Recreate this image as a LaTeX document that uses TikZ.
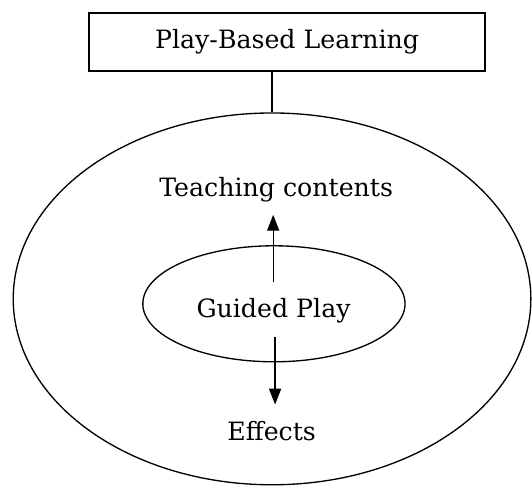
\documentclass[tikz,border=0pt]{standalone}
\usepackage{fontspec}
\setmainfont{DejaVu Serif}
\usetikzlibrary{arrows.meta,shapes.geometric}
\tikzstyle{caja}=[draw=black,line width=1.4pt,minimum width=10.48cm,minimum height=1.53cm,inner sep=0pt,font=\fontsize{19}{22}\selectfont]
\tikzstyle{texto}=[inner sep=0pt,font=\fontsize{19}{22}\selectfont]
\tikzstyle{elipse}=[draw=black,ellipse,line width=1pt,inner sep=0pt]
\tikzstyle{flecha}=[line width=1pt,-{Triangle[length=4.2mm,width=3.2mm]}]

\begin{document}
\begin{tikzpicture}
		\useasboundingbox (-7.20,-4.95) rectangle (6.88,7.91);
		\node [caja] (pbl) at (0.40,6.80) {Play-Based Learning};
		\node [elipse,minimum width=13.70cm,minimum height=9.84cm] (grande) at (0,0) {};
		\node [elipse,minimum width=6.94cm,minimum height=3.07cm] (chica) at (0.05,-0.13) {};
		\node [texto,anchor=base] (guiado) at (0.04,-0.48) {Guided Play};
		\node [texto,anchor=base] (contenidos) at (0.11,2.70) {Teaching contents};
		\node [texto,anchor=base] (efectos) at (-0.01,-3.76) {Effects};
		\coordinate (arriba) at (0.03,0.45);
		\coordinate (abajo) at (0.08,-1.01);
		% union de la caja con la elipse grande
		\draw [line width=1pt] (pbl.south -| grande.north) -- (grande.north);
		\draw [flecha,shorten >=0.32cm] (arriba) -- (arriba |- contenidos.south);
		\draw [flecha,shorten >=0.45cm] (abajo) -- (abajo |- efectos.north);
\end{tikzpicture}
\end{document}
